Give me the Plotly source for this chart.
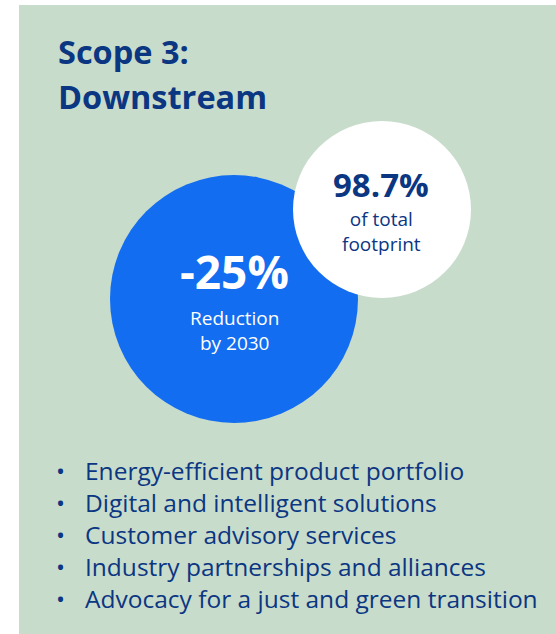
import plotly.graph_objects as go

# Chart data
title_lines = ["Scope 3:", "Downstream"]
share_of_footprint = 98.7      # % of total footprint
reduction_target = -25         # % reduction
target_year = 2030
actions = [
    "Energy-efficient product portfolio",
    "Digital and intelligent solutions",
    "Customer advisory services",
    "Industry partnerships and alliances",
    "Advocacy for a just and green transition",
]

NAVY = "#0b3682"
BLUE = "#136df0"
GREEN = "#c8dccb"
FONT = "Open Sans"

W, H = 556, 634

fig = go.Figure()

# white page margins (top and left); the rest is the green panel
fig.add_shape(type="rect", x0=-20, x1=19, y0=-20, y1=H + 20,
              fillcolor="white", line_width=0, layer="below")
fig.add_shape(type="rect", x0=-20, x1=W + 20, y0=-20, y1=5,
              fillcolor="white", line_width=0, layer="below")
# reduction circle (blue) and share circle (white)
fig.add_shape(type="circle", x0=110, x1=358, y0=175, y1=423,
              fillcolor=BLUE, line_width=0, layer="below")
fig.add_shape(type="circle", x0=293, x1=471, y0=121, y1=298,
              fillcolor="white", line_width=0, layer="below")

def txt(x, y, s, size, color, bold=False, xanchor="center"):
    fig.add_annotation(
        x=x, y=y, text=f"<b>{s}</b>" if bold else s, showarrow=False,
        xanchor=xanchor, yanchor="middle", align="center",
        font=dict(family=FONT, size=size, color=color),
    )

# title
txt(56, 51, title_lines[0], 32.5, NAVY, bold=True, xanchor="left")
txt(56, 96, title_lines[1], 32.5, NAVY, bold=True, xanchor="left")

# big circle text
txt(234, 271, f"{reduction_target}%", 46, "white", bold=True)
txt(234, 330, f"Reduction<br>by {target_year}", 19, "white")

# small circle text
txt(381, 184, f"{share_of_footprint}%", 33, NAVY, bold=True)
txt(381, 231, "of total<br>footprint", 19, NAVY)

# bullet list
for i, item in enumerate(actions):
    y = 470 + i * 32.2
    txt(60, y, "•", 24, NAVY)
    txt(83, y, item, 24.5, NAVY, xanchor="left")

fig.update_layout(
    width=W, height=H,
    margin=dict(l=0, r=0, t=0, b=0),
    paper_bgcolor=GREEN, plot_bgcolor=GREEN,
    showlegend=False,
    xaxis=dict(range=[0, W], visible=False, fixedrange=True),
    yaxis=dict(range=[H, 0], visible=False, fixedrange=True),
)

fig.write_html("out.html", config={"displayModeBar": False},
               post_script="document.body.style.margin='0';"
                           "document.documentElement.style.overflow='hidden';"
                           "document.body.style.background='" + GREEN + "';")
